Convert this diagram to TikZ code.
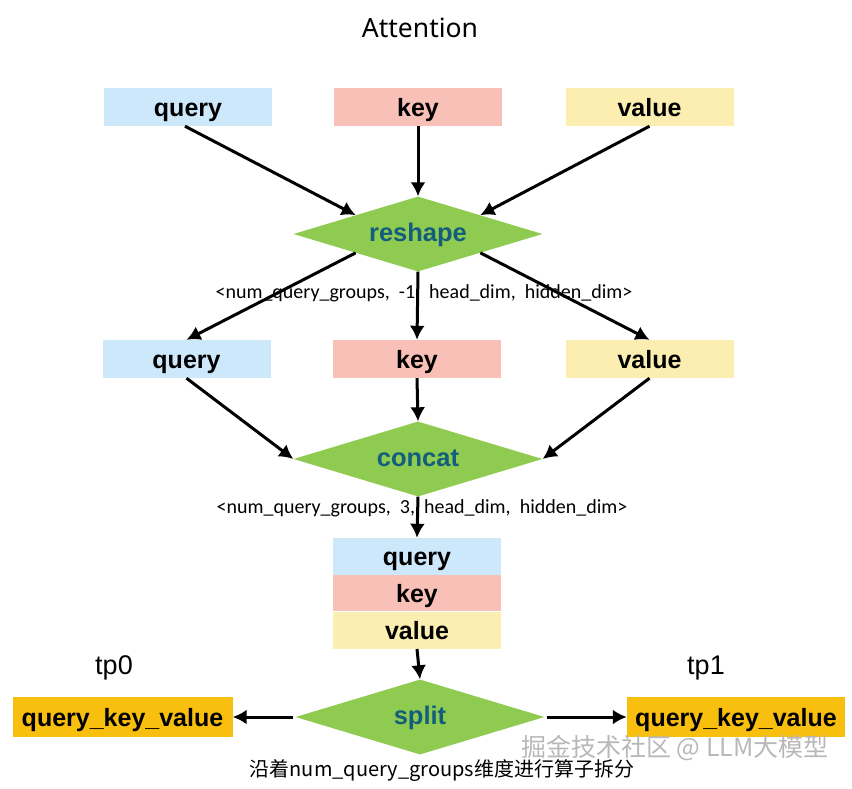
\documentclass[tikz,border=0pt]{standalone}
\usepackage{fontspec}
\setmainfont{Liberation Sans}
\newfontfamily\lblfont{Carlito}
\newfontfamily\titlefont{Noto Sans}
\newfontfamily\cjk{Noto Sans CJK SC}
\usetikzlibrary{shapes.geometric,arrows.meta}
\definecolor{qblue}{HTML}{CDE8FA}
\definecolor{kred}{HTML}{F9C0B8}
\definecolor{vyel}{HTML}{FBEEB0}
\definecolor{dgreen}{HTML}{8FCB50}
\definecolor{teal}{HTML}{125E7C}
\definecolor{qorange}{HTML}{F9BF0E}
\tikzset{
  box/.style={rectangle, minimum width=168pt, minimum height=38pt, inner sep=0pt, text height=18pt, text depth=0pt, font=\fontsize{25}{28}\selectfont\bfseries},
  qbox/.style={box, fill=qblue},
  kbox/.style={box, fill=kred},
  vbox/.style={box, fill=vyel},
  dia/.style={diamond, fill=dgreen, aspect=3.3, minimum width=249pt, minimum height=75pt, inner sep=0pt, text height=15.5pt, text depth=0pt, text=teal, font=\fontsize{25.5}{28}\selectfont\bfseries},
  obox/.style={rectangle, fill=qorange, minimum width=220pt, minimum height=40pt, inner sep=0pt, text height=18pt, text depth=0pt, font=\fontsize{25}{28}\selectfont\bfseries},
  arr/.style={line width=3pt, -{Latex[length=14pt,width=15pt]}},
  lbl/.style={font=\lblfont\fontsize{20}{23}\selectfont, inner sep=0pt}
}
\begin{document}
\begin{tikzpicture}[x=1pt,y=-1pt]
\useasboundingbox (0,0) rectangle (852,788);
\node[font=\titlefont\fontsize{26.5}{30}\selectfont] (title) at (420,28) {Attention};
% row 1
\node[qbox] (q1) at (188,107) {query};
\node[kbox] (k1) at (418,107) {key};
\node[vbox] (v1) at (649.5,107) {value};
% reshape
\node[dia] (rs) at (418,234) {reshape};
\draw[arr] (q1.south) ++(-3,0) -- (rs.north west);
\draw[arr] (k1.south) -- (rs.north);
\draw[arr] (v1.south) -- (rs.north east);
% row 2
\node[qbox] (q2) at (186.5,359) {query};
\node[kbox] (k2) at (417,359) {key};
\node[vbox] (v2) at (649.5,359) {value};
\draw[arr] (rs.south west) -- (q2.north);
\draw[arr] (rs.south) -- (k2.north);
\draw[arr] (rs.south east) -- (v2.north);
\node[lbl] (l1) at (424,293) {<num\_query\_groups,\ \ -1,\ \ head\_dim,\ \ hidden\_dim>};
% concat
\node[dia] (cc) at (418,459) {concat};
\draw[arr] (q2.south) -- (cc.west);
\draw[arr] (k2.south) -- (cc.north);
\draw[arr] (v2.south) -- (cc.east);
\node[lbl] (l2) at (422,508) {<num\_query\_groups,\ \ 3,\ \ head\_dim,\ \ hidden\_dim>};
% stack
\node[qbox, minimum height=37pt] (sq) at (417,556.5) {query};
\node[kbox, minimum height=36pt, anchor=north] (sk) at (sq.south) {key};
\node[vbox, minimum height=37pt, anchor=north] (sv) at (sk.south) {value};
\draw[arr] (cc.south) -- (sq.north);
% split
\node[dia] (sp) at (420,717) {split};
\draw[arr] (sv.south) -- (sp.north);
\node[obox] (o0) at (122.5,717) {query\_key\_value};
\node[obox, minimum width=218pt] (o1) at (736,717) {query\_key\_value};
\node[font=\fontsize{27}{30}\selectfont] (tp0) at (114,668) {tp0};
\node[font=\fontsize{27}{30}\selectfont] (tp1) at (706,668) {tp1};
\draw[arr] (sp.west) ++(-2,0) -- (o0.east);
\draw[arr] (sp.east) ++(2,0) -- (o1.west);
\node[font=\cjk\fontsize{20}{23}\selectfont, inner sep=0pt] (note) at (442,771) {沿着num\_query\_groups维度进行算子拆分};
\node[font=\cjk\fontsize{25}{28}\selectfont, text=black!28, inner sep=0pt] (wm) at (675,748) {掘金技术社区 @ LLM大模型};
\end{tikzpicture}
\end{document}
